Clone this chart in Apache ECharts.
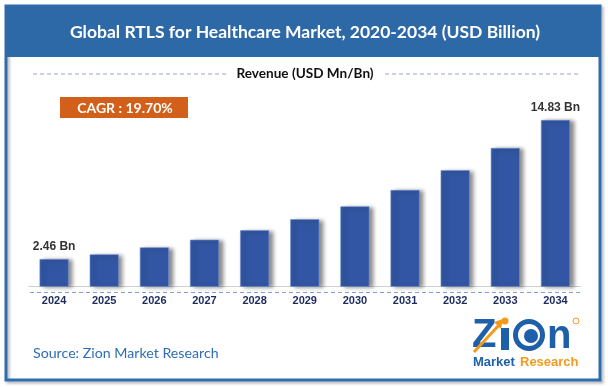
<!DOCTYPE html>
<html><head><meta charset="utf-8">
<script src="https://cdn.jsdelivr.net/npm/echarts@6/dist/echarts.min.js"></script>
<style>html,body{margin:0;padding:0;background:#fff}#c{width:608px;height:387px}</style>
</head><body><div id="c"></div>
<script>
const years = ['2024','2025','2026','2027','2028','2029','2030','2031','2032','2033','2034'];
const revenue = [2.46, 2.88, 3.50, 4.18, 5.02, 6.00, 7.15, 8.60, 10.36, 12.34, 14.83];
const labelledIdx = [0, 10];
const titleText = 'Global RTLS for Healthcare Market, 2020-2034 (USD Billion)';
const legendText = 'Revenue (USD Mn/Bn)';
const cagrText = 'CAGR : 19.70%';
const sourceText = 'Source: Zion Market Research';

const chart = echarts.init(document.getElementById('c'), null, {renderer:'canvas'});
const barData = revenue.map((v,i)=>({
  value: v,
  label: {show: labelledIdx.includes(i)}
}));
chart.setOption({
  backgroundColor:'#fff',
  animation:false,
  grid:{left:29, width:551.5, bottom:100.3, height:168.6, containLabel:false},
  xAxis:{type:'category', data:years,
    axisLine:{show:true, lineStyle:{color:'#d0d0d0', width:1}},
    axisTick:{show:false},
    axisLabel:{margin:9, color:'#1c2b5c', fontWeight:'bold', fontSize:11, fontFamily:'Liberation Sans'}},
  yAxis:{type:'value', min:0, max:15, show:false, splitLine:{show:false}},
  series:[{type:'bar', data:barData, barWidth:29,
    itemStyle:{color:'#3256a3', borderColor:'#6f8fcf', borderWidth:0.6,
      shadowColor:'rgba(0,0,0,0.45)', shadowBlur:4, shadowOffsetX:4, shadowOffsetY:1},
    label:{position:'top', distance:6, color:'#333', fontWeight:'bold', fontSize:12, fontFamily:'Liberation Sans',
      formatter:p=>p.value.toFixed(2)+' Bn'}
  }],
  graphic:[
    {type:'rect', shape:{x:6, y:6, width:594, height:374}, style:{fill:'none', stroke:'#2f6db3', lineWidth:3, shadowColor:'rgba(0,0,0,0.3)', shadowBlur:3, shadowOffsetX:2, shadowOffsetY:2}, z:1},
    {type:'rect', shape:{x:6, y:6, width:594, height:51}, style:{fill:'#2c69a6'}, z:2},
    {type:'text', x:305, y:32, style:{text:titleText, fill:'#fff', font:'bold 17.5px Lato', textAlign:'center', textVerticalAlign:'middle'}, z:3},
    {type:'text', x:305, y:74, style:{text:legendText, fill:'#111', font:'bold 13.6px Lato', textAlign:'center', textVerticalAlign:'middle'}, z:3},
    {type:'line', shape:{x1:33, y1:74, x2:226, y2:74}, style:{stroke:'#8aa6d6', lineWidth:1, lineDash:[4,3]}, z:3},
    {type:'line', shape:{x1:385, y1:74, x2:578, y2:74}, style:{stroke:'#8aa6d6', lineWidth:1, lineDash:[4,3]}, z:3},
    {type:'rect', shape:{x:60, y:97, width:128, height:21}, style:{fill:'#d2601a'}, z:3},
    {type:'text', x:125, y:108, style:{text:cagrText, fill:'#fff', font:'bold 14px Lato', textAlign:'center', textVerticalAlign:'middle'}, z:4},
    {type:'line', shape:{x1:30, y1:292.5, x2:580, y2:292.5}, style:{stroke:'#7fa0d8', lineWidth:1, lineDash:[4,3]}, z:3},
    {type:'text', x:33, y:353, style:{text:sourceText, fill:'#2e6db3', font:'14.2px Lato', textAlign:'left', textVerticalAlign:'middle'}, z:3},
    // logo
    {type:'text', x:472, y:336, style:{text:'Z', fill:'#1d5fa9', font:'bold 40px Liberation Sans', textAlign:'left', textVerticalAlign:'middle'}, z:4},
    {type:'rect', shape:{x:501, y:328, width:8, height:22}, style:{fill:'#1d5fa9'}, z:4},
    {type:'circle', shape:{cx:505, cy:321, r:3.5}, style:{fill:'#f39a1e'}, z:4},
    {type:'circle', shape:{cx:529, cy:335, r:16}, style:{fill:'#1d5fa9'}, z:4},
    {type:'circle', shape:{cx:529, cy:335, r:11}, style:{fill:'#fff'}, z:5},
    {type:'circle', shape:{cx:531, cy:336, r:7}, style:{fill:'#1d5fa9'}, z:6},
    {type:'text', x:547, y:337, style:{text:'n', fill:'#1d5fa9', font:'bold 40px Liberation Sans', textAlign:'left', textVerticalAlign:'middle'}, z:4},
    {type:'line', shape:{x1:474, y1:352, x2:500, y2:324}, style:{stroke:'#f39a1e', lineWidth:3}, z:6},
    {type:'polygon', shape:{points:[[494,322],[503,319],[501,329]]}, style:{fill:'#f39a1e'}, z:6},
    {type:'circle', shape:{cx:576, cy:321, r:3}, style:{fill:'none', stroke:'#f39a1e', lineWidth:1}, z:4},
    {type:'text', x:473, y:362, style:{text:'Market', fill:'#1d5fa9', font:'bold 13px Liberation Sans', textAlign:'left', textVerticalAlign:'middle'}, z:4},
    {type:'text', x:520, y:362, style:{text:'Research', fill:'#f39a1e', font:'bold 13px Liberation Sans', textAlign:'left', textVerticalAlign:'middle'}, z:4}
  ]
});
</script></body></html>
